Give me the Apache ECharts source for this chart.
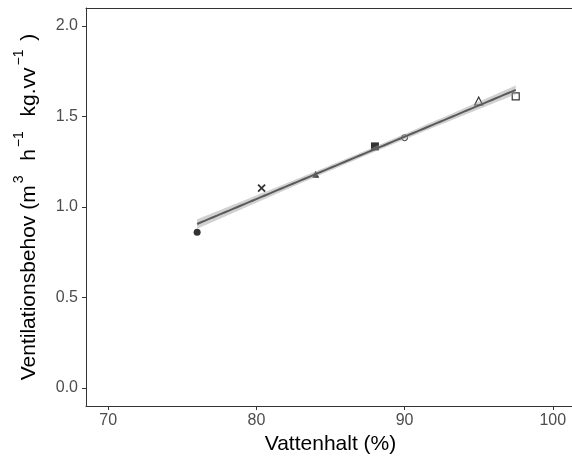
<!DOCTYPE html>
<html>
<head>
<meta charset="utf-8">
<script src="https://cdn.jsdelivr.net/npm/echarts@6/dist/echarts.min.js"></script>
<style>html,body{margin:0;padding:0;background:#fff;}#c{width:572px;height:459px;}</style>
</head>
<body>
<div id="c"></div>
<script>
// Data
var waterContent = [76, 80.35, 84, 88, 90, 95, 97.5];                 // Vattenhalt (%)
var ventilation  = [0.861, 1.104, 1.181, 1.335, 1.383, 1.586, 1.611]; // m3 h-1 kg.vv-1
var pointShapes  = ['filledCircle', 'cross', 'filledTriangle', 'filledSquare', 'openCircle', 'openTriangle', 'openSquare'];
var xTicks = [70, 80, 90, 100];
var yTicks = [0, 0.5, 1.0, 1.5, 2.0];
var bandScale = 0.037; // read-off half-width scale of the grey confidence band

// Least-squares fit (geom_smooth method = lm)
var n = waterContent.length;
var mx = waterContent.reduce(function(a,b){return a+b;},0)/n;
var my = ventilation.reduce(function(a,b){return a+b;},0)/n;
var sxx = 0, sxy = 0;
for (var i=0;i<n;i++){ sxx += (waterContent[i]-mx)*(waterContent[i]-mx); sxy += (waterContent[i]-mx)*(ventilation[i]-my); }
var slope = sxy/sxx, icept = my - slope*mx;
var xMin = Math.min.apply(null, waterContent), xMax = Math.max.apply(null, waterContent);
var fitLine = [], bandUpper = [], bandLower = [];
var steps = 80;
for (var k=0;k<=steps;k++){
  var x = xMin + (xMax-xMin)*k/steps;
  var y = icept + slope*x;
  var hw = bandScale*Math.sqrt(1/n + (x-mx)*(x-mx)/sxx);
  fitLine.push([x, y]);
  bandUpper.push([x, y+hw]);
  bandLower.push([x, y-hw]);
}
var bandPolygon = bandUpper.concat(bandLower.slice().reverse());

var shapeStyle = {
  filledCircle:   {symbol:'circle', symbolSize:7, itemStyle:{color:'#000'}},
  cross:          {symbol:'path://M0,0L10,10M10,0L0,10', symbolSize:7, itemStyle:{color:'none', borderColor:'#000', borderWidth:1.8}},
  filledTriangle: {symbol:'triangle', symbolSize:7, itemStyle:{color:'#000'}},
  filledSquare:   {symbol:'rect', symbolSize:8, itemStyle:{color:'#000'}},
  openCircle:     {symbol:'circle', symbolSize:6, itemStyle:{color:'#fff', borderColor:'#000', borderWidth:1}},
  openTriangle:   {symbol:'triangle', symbolSize:8, itemStyle:{color:'#fff', borderColor:'#000', borderWidth:1.2}},
  openSquare:     {symbol:'rect', symbolSize:7, itemStyle:{color:'#fff', borderColor:'#000', borderWidth:1.2}}
};
var scatterData = waterContent.map(function(x, i){
  var s = shapeStyle[pointShapes[i]];
  return {value:[x, ventilation[i]], symbol:s.symbol, symbolSize:s.symbolSize, itemStyle:s.itemStyle};
});

var FONT = 'Liberation Sans, Arial, sans-serif';
var chart = echarts.init(document.getElementById('c'), null, {renderer:'canvas'});
var axisLabelStyle = {color:'#4D4D4D', fontSize:16, fontFamily:FONT};
chart.setOption({
  animation:false,
  backgroundColor:'#fff',
  grid:{left:86, top:8, width:489, height:398, outerBoundsMode:'none', containLabel:false, show:false},
  xAxis:[{
    type:'value', min:68.5, max:101.5,
    name:'Vattenhalt (%)', nameLocation:'middle', nameGap:27,
    nameTextStyle:{color:'#000', fontSize:21, fontFamily:FONT, verticalAlign:'top'},
    axisLine:{show:true, onZero:false, lineStyle:{color:'#333', width:1}},
    axisTick:{show:true, length:4, customValues:xTicks, lineStyle:{color:'#333'}},
    axisLabel:Object.assign({margin:7, customValues:xTicks, formatter:function(v){return String(v);}}, axisLabelStyle),
    splitLine:{show:false}
  },{
    type:'value', min:68.5, max:101.5, position:'top',
    axisLine:{show:true, onZero:false, lineStyle:{color:'#333', width:1}},
    axisTick:{show:false}, axisLabel:{show:false}, splitLine:{show:false}
  }],
  yAxis:{
    type:'value', min:-0.1, max:2.1,
    name:'{n|Ventilationsbehov (m}{s|3}{n|  h}{s|−1}{n|  kg.vv}{s|−1}{n| )}',
    nameLocation:'middle', nameGap:46,
    nameTextStyle:{color:'#000', fontSize:21, fontFamily:FONT,
      rich:{
        n:{fontSize:21, fontFamily:FONT, color:'#000', lineHeight:28, verticalAlign:'bottom'},
        s:{fontSize:14, fontFamily:FONT, color:'#000', lineHeight:14, verticalAlign:'top', padding:[0,3,0,2]}
      }},
    axisLine:{show:true, onZero:false, lineStyle:{color:'#333', width:1}},
    axisTick:{show:true, length:4, customValues:yTicks, lineStyle:{color:'#333'}},
    axisLabel:Object.assign({margin:8, customValues:yTicks, formatter:function(v){return v.toFixed(1);}}, axisLabelStyle),
    splitLine:{show:false}
  },
  series:[
    {type:'scatter', data:scatterData, z:2},
    {type:'custom', z:3, silent:true, data:[0],
      renderItem:function(params, api){
        var pts = bandPolygon.map(function(p){ return api.coord(p); });
        return {type:'polygon', shape:{points:pts}, style:{fill:'rgba(153,153,153,0.45)', stroke:null}};
      }},
    {type:'line', data:fitLine, symbol:'none', lineStyle:{color:'#5a5a5a', width:2}, silent:true, z:4}
  ]
});
</script>
</body>
</html>
